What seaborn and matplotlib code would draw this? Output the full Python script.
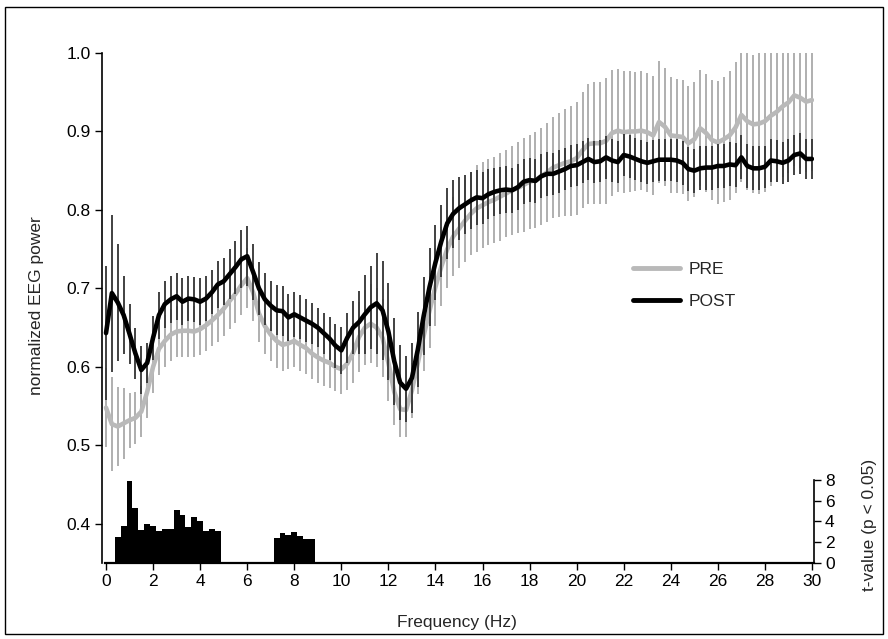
import matplotlib
matplotlib.use("Agg")
import matplotlib.pyplot as plt
from matplotlib.patches import Rectangle
from matplotlib.lines import Line2D
import numpy as np
import pandas as pd
import seaborn as sns

# ---------------- data ----------------
FREQ = np.linspace(0, 30, 121)  # 0.25 Hz grid

POST = [
    0.643, 0.694, 0.682, 0.666, 0.642, 0.617, 0.596, 0.605,
    0.637, 0.666, 0.680, 0.686, 0.690, 0.683, 0.687, 0.686,
    0.683, 0.687, 0.695, 0.705, 0.709, 0.718, 0.727, 0.737,
    0.741, 0.721, 0.700, 0.686, 0.678, 0.672, 0.671, 0.663,
    0.667, 0.663, 0.659, 0.655, 0.650, 0.643, 0.636, 0.627,
    0.621, 0.637, 0.650, 0.657, 0.667, 0.676, 0.681, 0.672,
    0.645, 0.607, 0.580, 0.572, 0.586, 0.622, 0.665, 0.702,
    0.733, 0.760, 0.783, 0.795, 0.802, 0.807, 0.812, 0.816,
    0.815, 0.820, 0.823, 0.825, 0.826, 0.825, 0.829, 0.836,
    0.838, 0.837, 0.843, 0.846, 0.846, 0.849, 0.852, 0.856,
    0.857, 0.861, 0.865, 0.861, 0.862, 0.867, 0.863, 0.861,
    0.870, 0.868, 0.865, 0.862, 0.860, 0.862, 0.864, 0.864,
    0.864, 0.863, 0.860, 0.852, 0.850, 0.853, 0.854, 0.854,
    0.856, 0.856, 0.858, 0.857, 0.867, 0.856, 0.853, 0.853,
    0.855, 0.863, 0.862, 0.860, 0.863, 0.870, 0.872, 0.865,
    0.865,
]

PRE = [
    0.548, 0.527, 0.524, 0.528, 0.532, 0.535, 0.543, 0.568,
    0.600, 0.623, 0.633, 0.641, 0.645, 0.646, 0.646, 0.645,
    0.648, 0.653, 0.659, 0.666, 0.674, 0.684, 0.693, 0.704,
    0.713, 0.695, 0.668, 0.652, 0.641, 0.633, 0.628, 0.630,
    0.633, 0.628, 0.624, 0.617, 0.612, 0.608, 0.605, 0.600,
    0.597, 0.604, 0.618, 0.638, 0.650, 0.655, 0.650, 0.637,
    0.605, 0.568, 0.546, 0.545, 0.570, 0.605, 0.640, 0.672,
    0.702, 0.728, 0.750, 0.766, 0.776, 0.786, 0.795, 0.802,
    0.806, 0.810, 0.813, 0.817, 0.821, 0.825, 0.828, 0.832,
    0.836, 0.838, 0.843, 0.848, 0.854, 0.857, 0.860, 0.862,
    0.866, 0.876, 0.884, 0.885, 0.885, 0.888, 0.898, 0.901,
    0.899, 0.900, 0.900, 0.901, 0.899, 0.895, 0.912, 0.906,
    0.895, 0.894, 0.893, 0.885, 0.890, 0.904, 0.898, 0.889,
    0.886, 0.890, 0.895, 0.905, 0.921, 0.913, 0.909, 0.910,
    0.913, 0.920, 0.925, 0.932, 0.937, 0.946, 0.943, 0.938,
    0.940,
]

POST_ERR = [
    0.085, 0.100, 0.075, 0.050, 0.038, 0.032, 0.030, 0.026,
    0.028, 0.030, 0.030, 0.030, 0.030, 0.030, 0.029, 0.029,
    0.030, 0.029, 0.028, 0.030, 0.030, 0.032, 0.034, 0.037,
    0.038, 0.036, 0.034, 0.033, 0.032, 0.032, 0.032, 0.030,
    0.029, 0.028, 0.027, 0.026, 0.025, 0.026, 0.027, 0.028,
    0.030, 0.032, 0.034, 0.040, 0.050, 0.053, 0.064, 0.063,
    0.062, 0.055, 0.048, 0.042, 0.045, 0.048, 0.050, 0.050,
    0.048, 0.046, 0.045, 0.043, 0.040, 0.038, 0.036, 0.035,
    0.033, 0.032, 0.031, 0.030, 0.030, 0.029, 0.029, 0.029,
    0.028, 0.028, 0.028, 0.028, 0.027, 0.027, 0.027, 0.027,
    0.027, 0.027, 0.027, 0.027, 0.027, 0.027, 0.027, 0.027,
    0.027, 0.027, 0.027, 0.027, 0.027, 0.027, 0.027, 0.027,
    0.027, 0.027, 0.028, 0.028, 0.028, 0.028, 0.028, 0.028,
    0.028, 0.028, 0.028, 0.028, 0.028, 0.028, 0.028, 0.028,
    0.027, 0.027, 0.027, 0.027, 0.027, 0.026, 0.026, 0.026,
    0.026,
]

PRE_ERR = [
    0.050, 0.060, 0.050, 0.045, 0.035, 0.033, 0.033, 0.033,
    0.033, 0.033, 0.033, 0.033, 0.033, 0.033, 0.033, 0.033,
    0.033, 0.033, 0.033, 0.034, 0.035, 0.036, 0.037, 0.038,
    0.038, 0.037, 0.036, 0.035, 0.034, 0.034, 0.033, 0.033,
    0.033, 0.033, 0.033, 0.033, 0.032, 0.032, 0.032, 0.031,
    0.031, 0.033, 0.038, 0.045, 0.048, 0.050, 0.050, 0.050,
    0.048, 0.042, 0.036, 0.035, 0.035, 0.040, 0.045, 0.048,
    0.050, 0.050, 0.050, 0.050, 0.050, 0.052, 0.053, 0.055,
    0.055, 0.055, 0.055, 0.056, 0.056, 0.057, 0.058, 0.060,
    0.060, 0.061, 0.062, 0.063, 0.064, 0.066, 0.068, 0.070,
    0.072, 0.074, 0.076, 0.078, 0.078, 0.080, 0.080, 0.078,
    0.078, 0.077, 0.076, 0.076, 0.076, 0.076, 0.078, 0.075,
    0.074, 0.073, 0.073, 0.073, 0.073, 0.074, 0.075, 0.076,
    0.078, 0.080, 0.082, 0.084, 0.086, 0.088, 0.088, 0.090,
    0.090, 0.090, 0.090, 0.090, 0.090, 0.090, 0.090, 0.090,
    0.090,
]

T_FREQ = [0.50, 0.75, 1.00, 1.25, 1.50, 1.75, 2.00, 2.25, 2.50,
          2.75, 3.00, 3.25, 3.50, 3.75, 4.00, 4.25, 4.50, 4.75,
          7.25, 7.50, 7.75, 8.00, 8.25, 8.50, 8.75]
T_VALUES = [2.5, 3.6, 7.9, 5.3, 3.2, 3.7, 3.55, 3.1, 3.25,
            3.3, 5.1, 4.6, 3.5, 4.4, 4.0, 3.1, 3.25, 3.1,
            2.4, 2.85, 2.65, 2.95, 2.55, 2.3, 2.3]

X_TICKS = list(range(0, 31, 2))
Y_TICKS = [0.4, 0.5, 0.6, 0.7, 0.8, 0.9, 1.0]
T_TICKS = [0, 2, 4, 6, 8]

# ---------------- style ----------------
sns.set_theme(style="white")
plt.rcParams["font.family"] = ["Liberation Sans", "DejaVu Sans"]

FS = 12.5
GRAY_LINE = "#b9b9b9"
GRAY_ERR = "#a9a9a9"
DARK_ERR = "#333333"

W, H = 888, 639
fig = plt.figure(figsize=(W / 100, H / 100), dpi=100)
fig.patch.set_facecolor("white")

L, R, T, B = 102, 814, 53, 563
ax = fig.add_axes([L / W, (H - B) / H, (R - L) / W, (B - T) / H])
ax.set_facecolor("white")

df_pre = pd.DataFrame({"freq": FREQ, "power": PRE})
df_post = pd.DataFrame({"freq": FREQ, "power": POST})
pre_arr = np.array(PRE)
post_arr = np.array(POST)

ax.vlines(FREQ, pre_arr - np.array(PRE_ERR), pre_arr + np.array(PRE_ERR),
          color=GRAY_ERR, linewidth=1.3, zorder=1)
sns.lineplot(data=df_pre, x="freq", y="power", color=GRAY_LINE,
             linewidth=3.3, ax=ax, zorder=2)
ax.vlines(FREQ, post_arr - np.array(POST_ERR), post_arr + np.array(POST_ERR),
          color=DARK_ERR, linewidth=1.3, zorder=3)
sns.lineplot(data=df_post, x="freq", y="power", color="black",
             linewidth=3.3, ax=ax, zorder=4)

ax.set_xlim(-0.17, 30.085)
ax.set_ylim(0.35, 1.0)
ax.set_xticks(X_TICKS)
ax.set_yticks(Y_TICKS)
ax.set_yticklabels([f"{v:.1f}" for v in Y_TICKS])
ax.tick_params(axis="both", direction="out", length=5, width=1,
               labelsize=FS, colors="black", left=True, bottom=True, pad=3)
for s in ["top", "right"]:
    ax.spines[s].set_visible(False)
ax.spines["left"].set_bounds(0.35, 1.0)
ax.spines["bottom"].set_bounds(-0.05, 30.085)
ax.spines["left"].set_linewidth(1.2)
ax.spines["bottom"].set_linewidth(1.6)
for s in ["left", "bottom"]:
    ax.spines[s].set_color("black")

ax.set_xlabel("Frequency (Hz)", fontsize=FS)
ax.set_ylabel("normalized EEG power", fontsize=FS)
ax.xaxis.set_label_coords((457 - L) / (R - L), (B - 623) / (B - T))
ax.yaxis.set_label_coords((37 - L) / (R - L), (B - 306) / (B - T))
ax.xaxis.label.set_va("center")
ax.yaxis.label.set_va("center")

# t-value bars on twin axis
ax2 = ax.twinx()
ax2.bar(T_FREQ, T_VALUES, width=0.25, color="black", linewidth=0, zorder=1)
ax2.set_ylim(0, 49)
ax2.set_yticks(T_TICKS)
ax2.tick_params(axis="y", direction="out", length=5, width=1,
                labelsize=FS, colors="black", right=True, pad=3)
for s in ["top", "left", "bottom"]:
    ax2.spines[s].set_visible(False)
ax2.spines["right"].set_bounds(0, 8)
ax2.spines["right"].set_color("black")
ax2.spines["right"].set_linewidth(1.2)
ax2.set_ylabel("t-value (p < 0.05)", fontsize=FS, rotation=90)
ax2.yaxis.set_label_coords((870 - L) / (R - L), (B - 525) / (B - T))
ax2.yaxis.label.set_va("center")
ax2.yaxis.label.set_ha("center")

# legend
handles = [Line2D([], [], color=GRAY_LINE, linewidth=3.5),
           Line2D([], [], color="black", linewidth=3.5)]
fig.legend(handles, ["PRE", "POST"], loc="upper left",
           bbox_to_anchor=(633 / W, 1 - 262 / H), frameon=False,
           fontsize=FS, handlelength=2.7, handletextpad=0.5,
           labelspacing=0.95, borderpad=0, borderaxespad=0)

# outer frame
fig.add_artist(Rectangle((5 / W, 5 / H), 878 / W, 627 / H,
                         transform=fig.transFigure, fill=False,
                         edgecolor="black", linewidth=1))

fig.savefig("out.png", dpi=100, facecolor="white")
